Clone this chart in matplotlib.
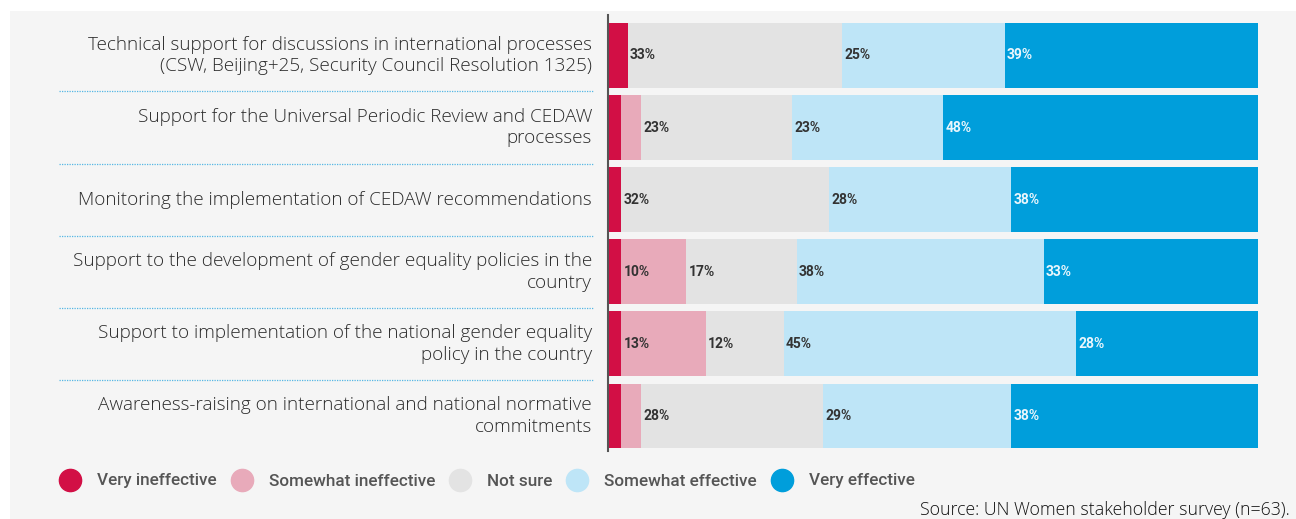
import numpy as np
import matplotlib
matplotlib.use("Agg")
import matplotlib.pyplot as plt
from matplotlib.patches import Rectangle
from matplotlib.lines import Line2D
import matplotlib.transforms as mtransforms

# data
categories = [
    "Technical support for discussions in international processes\n(CSW, Beijing+25, Security Council Resolution 1325)",
    "Support for the Universal Periodic Review and CEDAW\nprocesses",
    "Monitoring the implementation of CEDAW recommendations",
    "Support to the development of gender equality policies in the\ncountry",
    "Support to implementation of the national gender equality\npolicy in the country",
    "Awareness-raising on international and national normative\ncommitments",
]
series_names = ["Very ineffective", "Somewhat ineffective", "Not sure",
                "Somewhat effective", "Very effective"]
very_ineffective = [3, 2, 2, 2, 2, 2]
somewhat_ineffective = [0, 3, 0, 10, 13, 3]
not_sure = [33, 23, 32, 17, 12, 28]
somewhat_effective = [25, 23, 28, 38, 45, 29]
very_effective = [39, 48, 38, 33, 28, 38]
source_text = "Source: UN Women stakeholder survey (n=63)."

colors = ["#D20F45", "#E8AABA", "#E3E3E3", "#BEE5F7", "#009EDB"]
label_colors = ["#333333", "#333333", "#333333", "#333333", "#EAF6FC"]

W, H = 1296, 519
fig = plt.figure(figsize=(W / 100, H / 100), dpi=100)
fig.patch.set_facecolor("white")

# grey panel behind everything
fig.patches.append(Rectangle((10 / W, 0), 1, (H - 11) / H, transform=fig.transFigure,
                             facecolor="#F5F5F5", edgecolor="none", zorder=-5))

ax = fig.add_axes([608 / W, (H - 451) / H, 650 / W, 436 / H])
ax.set_facecolor("none")
ax.set_zorder(2)

data = np.array([very_ineffective, somewhat_ineffective, not_sure,
                 somewhat_effective, very_effective], dtype=float)
totals = data.sum(axis=0)
widths = data / totals * 100  # bars fill the full width
y = np.arange(len(categories))

left = np.zeros(len(categories))
for k, name in enumerate(series_names):
    ax.barh(y, widths[k], left=left, height=0.9, color=colors[k],
            edgecolor="none", label=name, zorder=2)
    for i in range(len(categories)):
        if data[k, i] >= 10:
            ax.text(left[i] + 0.4, y[i], f"{int(data[k, i])}%", va="center", ha="left",
                    fontsize=10, fontweight="bold", family="Roboto",
                    color=label_colors[k], zorder=3)
    left += widths[k]

ax.set_xlim(0, 100)
ax.set_ylim(5.485, -0.56)
ax.set_xticks([])
ax.set_yticks([])
for s in ["top", "right", "bottom"]:
    ax.spines[s].set_visible(False)
ax.spines["left"].set_color("#555555")
ax.spines["left"].set_linewidth(1.5)

# category labels and dotted separators
trans = mtransforms.blended_transform_factory(ax.transAxes, ax.transData)
for i, cat in enumerate(categories):
    ax.text(-0.0246, y[i], cat, transform=trans, ha="right", va="center",
            fontsize=13.6, family="Open Sans", fontweight="light",
            color="#2b2b2b", linespacing=1.25)
for i in range(len(categories) - 1):
    ax.plot([-0.845, -0.0215], [y[i] + 0.5, y[i] + 0.5], transform=trans,
            color="#55B6E4", lw=0.9, ls=(0, (1, 1)), clip_on=False)

# legend
handles = [Line2D([], [], marker="o", ls="", markersize=16,
                  markerfacecolor=c, markeredgecolor=c) for c in colors]
leg = fig.legend(handles, series_names, loc="center left",
                 bbox_to_anchor=(58 / W, 1 - 481 / H), ncol=5, frameon=False,
                 borderaxespad=0, borderpad=0, handlelength=1.4, handletextpad=0.88,
                 columnspacing=0.76, prop={"family": "Roboto", "size": 12.3, "weight": "medium"})
for t in leg.get_texts():
    t.set_color("#555555")

fig.text(1290 / W, 1 - 510 / H, source_text, ha="right", va="center",
         fontsize=12.8, family="Open Sans", fontweight="light", color="#111111")

fig.savefig("out.png", dpi=100, facecolor=fig.get_facecolor())
